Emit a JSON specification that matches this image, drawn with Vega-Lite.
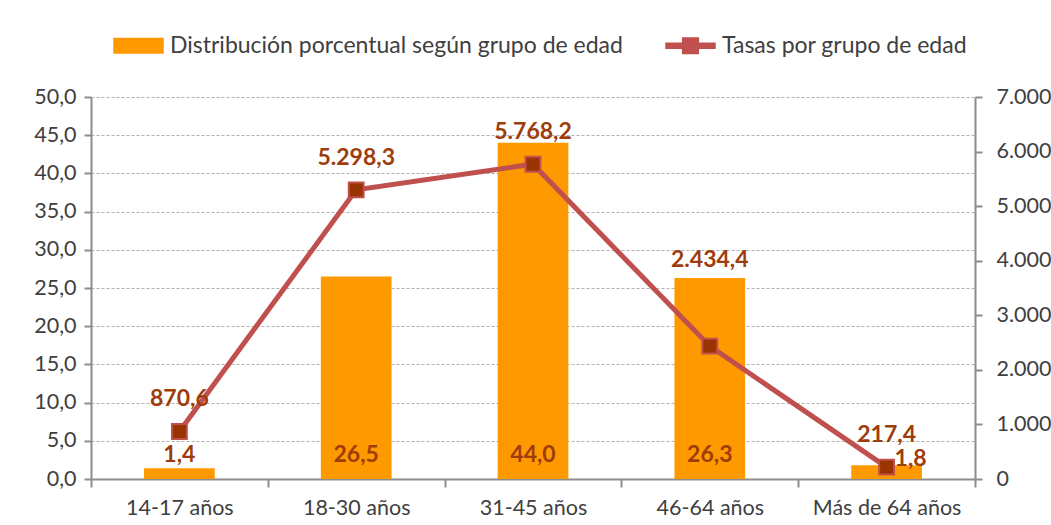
{
  "$schema": "https://vega.github.io/schema/vega-lite/v6.json",
  "autosize": {"type": "none"},
  "width": 884,
  "height": 382,
  "padding": {"left": 91, "top": 97, "right": 80, "bottom": 46},
  "background": "white",
  "config": {
    "locale": {"number": {"decimal": ",", "thousands": ".", "grouping": [3], "currency": ["", " €"]}},
    "font": "Lato",
    "view": {"stroke": null},
    "axis": {"labelFont": "Lato", "labelFontSize": 21.5, "labelColor": "#404040", "labelOverlap": false, "domainColor": "#8c8c8c", "domainWidth": 2, "tickColor": "#8c8c8c", "tickWidth": 2, "tickSize": 7, "titleFontSize": 0}
  },
  "data": {"values": [
    {"grupo": "14-17 años", "dist": 1.4, "tasa": 870.6},
    {"grupo": "18-30 años", "dist": 26.5, "tasa": 5298.3},
    {"grupo": "31-45 años", "dist": 44.0, "tasa": 5768.2},
    {"grupo": "46-64 años", "dist": 26.3, "tasa": 2434.4},
    {"grupo": "Más de 64 años", "dist": 1.8, "tasa": 217.4}
  ]},
  "encoding": {
    "x": {"field": "grupo", "type": "nominal", "sort": null, "title": null,
      "scale": {"paddingInner": 0, "paddingOuter": 0},
      "axis": {"labelAngle": 0, "tickBand": "extent", "labelPadding": 10, "tickSize": 8}}
  },
  "layer": [
    {
      "encoding": {
        "y": {"type": "quantitative", "title": null,
          "scale": {"domain": [0, 50]},
          "axis": {"values": [0, 5, 10, 15, 20, 25, 30, 35, 40, 45, 50], "format": ".1f", "labelOverlap": false, "grid": true, "gridDash": [3, 2], "gridColor": "#b0b0b0", "gridWidth": 1, "labelPadding": 8}}
      },
      "layer": [
        {
          "mark": {"type": "bar", "width": {"band": 0.4}},
          "encoding": {
            "y": {"field": "dist", "type": "quantitative", "title": null,
              "scale": {"domain": [0, 50]},
              "axis": {"values": [0, 5, 10, 15, 20, 25, 30, 35, 40, 45, 50], "format": ".1f", "labelOverlap": false, "grid": true, "gridDash": [3, 2], "gridColor": "#b0b0b0", "gridWidth": 1, "labelPadding": 8}},
            "color": {"datum": "Distribución porcentual según grupo de edad", "type": "nominal",
              "scale": {"domain": ["Distribución porcentual según grupo de edad", "Tasas por grupo de edad"], "range": ["#FF9900", "#C0504D"]},
              "legend": {
                "orient": "none", "legendX": 22, "legendY": -77, "direction": "horizontal", "title": null,
                "labelFont": "Lato", "labelFontSize": 23, "labelColor": "#404040", "labelLimit": 600, "symbolSize": 2400, "columnPadding": 40, "labelOffset": 6,
                "encode": {"symbols": {"update": {
                  "shape": {"signal": "datum.value === 'Tasas por grupo de edad' ? 'M-1,-0.1H1V0.1H-1Z M-0.32,-0.32H0.32V0.32H-0.32Z' : 'M-1,-0.3H1V0.3H-1Z'"},
                  "fill": {"signal": "datum.value === 'Tasas por grupo de edad' ? '#C0504D' : '#FF9900'"},
                  "stroke": {"value": null},
                  "opacity": {"value": 1}, "fillOpacity": {"value": 1}}}}
              }}
          }
        },
        {
          "transform": [{"filter": "datum.grupo !== 'Más de 64 años'"}],
          "mark": {"type": "text", "fontSize": 23, "fontWeight": "bold", "color": "#9E3C0C", "dy": -24},
          "encoding": {
            "y": {"datum": 0, "type": "quantitative", "title": null,
              "scale": {"domain": [0, 50]},
              "axis": {"values": [0, 5, 10, 15, 20, 25, 30, 35, 40, 45, 50], "format": ".1f", "labelOverlap": false, "grid": true, "gridDash": [3, 2], "gridColor": "#b0b0b0", "gridWidth": 1, "labelPadding": 8}},
            "text": {"field": "dist", "type": "quantitative", "format": ".1f"}
          }
        },
        {
          "transform": [{"filter": "datum.grupo === 'Más de 64 años'"}],
          "mark": {"type": "text", "fontSize": 23, "fontWeight": "bold", "color": "#9E3C0C", "dy": -20, "dx": 24},
          "encoding": {
            "y": {"datum": 0, "type": "quantitative", "title": null,
              "scale": {"domain": [0, 50]},
              "axis": {"values": [0, 5, 10, 15, 20, 25, 30, 35, 40, 45, 50], "format": ".1f", "labelOverlap": false, "grid": true, "gridDash": [3, 2], "gridColor": "#b0b0b0", "gridWidth": 1, "labelPadding": 8}},
            "text": {"field": "dist", "type": "quantitative", "format": ".1f"}
          }
        }
      ]
    },
    {
      "layer": [
        {
          "mark": {"type": "line", "strokeWidth": 5},
          "encoding": {
            "y": {"field": "tasa", "type": "quantitative", "title": null,
              "scale": {"domain": [0, 7000]},
              "axis": {"orient": "right", "values": [0, 1000, 2000, 3000, 4000, 5000, 6000, 7000], "format": ",.0f", "grid": false, "labelPadding": 14}},
            "color": {"datum": "Tasas por grupo de edad", "type": "nominal"}
          }
        },
        {
          "mark": {"type": "point", "shape": "square", "size": 220, "filled": true, "fill": "#993300", "stroke": "#C0504D", "strokeWidth": 2, "opacity": 1},
          "encoding": {"y": {"field": "tasa", "type": "quantitative"}}
        },
        {
          "transform": [{"filter": "datum.grupo !== '46-64 años'"}],
          "mark": {"type": "text", "fontSize": 23, "fontWeight": "bold", "color": "#9E3C0C", "dy": -32},
          "encoding": {
            "y": {"field": "tasa", "type": "quantitative"},
            "text": {"field": "tasa", "type": "quantitative", "format": ",.1f"}
          }
        },
        {
          "transform": [{"filter": "datum.grupo === '46-64 años'"}],
          "mark": {"type": "text", "fontSize": 23, "fontWeight": "bold", "color": "#9E3C0C", "dy": -86},
          "encoding": {
            "y": {"field": "tasa", "type": "quantitative"},
            "text": {"field": "tasa", "type": "quantitative", "format": ",.1f"}
          }
        }
      ]
    }
  ],
  "resolve": {"scale": {"y": "independent"}}
}
